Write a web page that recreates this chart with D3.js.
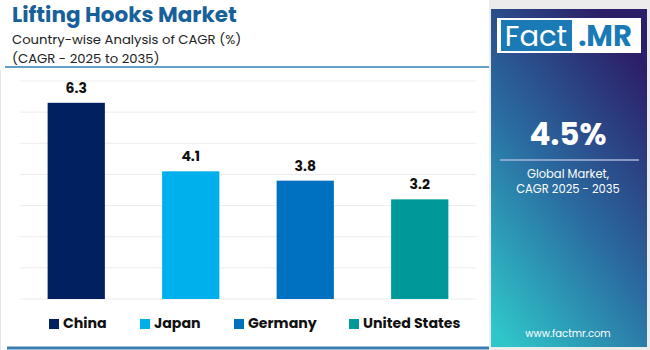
<!DOCTYPE html>
<html lang="en">
<head>
<meta charset="UTF-8">
<script src="https://d3js.org/d3.v7.min.js"></script>
<title>Lifting Hooks Market</title>
<style>
  body { margin: 0; background: #fff; }
  svg { display: block; font-family: Poppins, Inter, "Noto Sans", sans-serif; }
</style>
</head>
<body>
<svg id="chart" width="650" height="350"></svg>
<script>
// data
var countries = ["China", "Japan", "Germany", "United States"];
var cagr = [6.3, 4.1, 3.8, 3.2];
var colors = ["#00205f", "#00b0ec", "#0070c0", "#00999a"];
var gridTicks = [0, 1, 2, 3, 4, 5, 6, 7];
var globalCagr = "4.5%";

var svg = d3.select("#chart");

// plot area
var x = d3.scaleBand()
    .domain(countries)
    .range([19, 477])
    .paddingInner(0.5)
    .paddingOuter(0.25);

var y = d3.scaleLinear()
    .domain([0, 7])
    .range([299, 81]);

// titles
svg.append("text")
    .attr("x", 12).attr("y", 22)
    .attr("font-size", 21.5).attr("font-weight", 700)
    .attr("fill", "#17609a")
    .text("Lifting Hooks Market");
svg.append("text")
    .attr("x", 12).attr("y", 44)
    .attr("font-size", 13.2).attr("fill", "#222")
    .text("Country-wise Analysis of CAGR (%)");
svg.append("text")
    .attr("x", 12).attr("y", 63)
    .attr("font-size", 13.2).attr("fill", "#222")
    .text("(CAGR - 2025 to 2035)");

svg.append("line")
    .attr("x1", 5).attr("x2", 489)
    .attr("y1", 67).attr("y2", 67)
    .attr("stroke", "#2f7fb5").attr("stroke-width", 1.5);

// gridlines
svg.append("g").selectAll("line")
    .data(gridTicks)
    .enter().append("line")
    .attr("x1", 20).attr("x2", 476)
    .attr("y1", function (d) { return y(d); })
    .attr("y2", function (d) { return y(d); })
    .attr("stroke", "#ececec").attr("stroke-width", 1);

// bars
svg.append("g").selectAll("rect")
    .data(cagr)
    .enter().append("rect")
    .attr("x", function (d, i) { return x(countries[i]); })
    .attr("y", function (d) { return y(d); })
    .attr("width", x.bandwidth())
    .attr("height", function (d) { return y(0) - y(d); })
    .attr("fill", function (d, i) { return colors[i]; });

// value labels
svg.append("g").selectAll("text")
    .data(cagr)
    .enter().append("text")
    .attr("x", function (d, i) { return x(countries[i]) + x.bandwidth() / 2; })
    .attr("y", function (d) { return y(d) - 10; })
    .attr("text-anchor", "middle")
    .attr("font-size", 14).attr("font-weight", 700)
    .attr("fill", "#111")
    .text(function (d) { return d.toFixed(1); });

// legend
var legendX = [49, 140, 234, 349];
var legend = svg.append("g").selectAll("g")
    .data(countries)
    .enter().append("g")
    .attr("transform", function (d, i) { return "translate(" + legendX[i] + ",318)"; });
legend.append("rect")
    .attr("width", 10).attr("height", 10)
    .attr("y", 1)
    .attr("fill", function (d, i) { return colors[i]; });
legend.append("text")
    .attr("x", 14).attr("y", 10)
    .attr("font-size", 14.2).attr("font-weight", 700)
    .attr("fill", "#111")
    .text(function (d) { return d; });

svg.append("line")
    .attr("x1", 7).attr("x2", 489)
    .attr("y1", 348).attr("y2", 348)
    .attr("stroke", "#3b7fb0").attr("stroke-width", 3);
svg.append("line")
    .attr("x1", 0.5).attr("x2", 0.5)
    .attr("y1", 70).attr("y2", 350)
    .attr("stroke", "#e6e6e6");

// right panel
var defs = svg.append("defs");
var grad = defs.append("linearGradient")
    .attr("id", "panelGrad")
    .attr("x1", "0.1").attr("y1", "1")
    .attr("x2", "0.7").attr("y2", "0");
grad.append("stop").attr("offset", "0").attr("stop-color", "#2fc6ca");
grad.append("stop").attr("offset", "0.5").attr("stop-color", "#2a6aa0");
grad.append("stop").attr("offset", "1").attr("stop-color", "#2c1e68");

svg.append("rect")
    .attr("x", 489).attr("y", 0)
    .attr("width", 161).attr("height", 350)
    .attr("fill", "#ececec");
svg.append("rect")
    .attr("x", 491).attr("y", 9)
    .attr("width", 156).attr("height", 338)
    .attr("fill", "url(#panelGrad)");

// logo
svg.append("rect")
    .attr("x", 497).attr("y", 18)
    .attr("width", 144).attr("height", 35)
    .attr("fill", "#fff");
svg.append("rect")
    .attr("x", 501).attr("y", 20)
    .attr("width", 71).attr("height", 31)
    .attr("fill", "#1a7ab5");
svg.append("text")
    .attr("x", 536).attr("y", 46)
    .attr("text-anchor", "middle")
    .attr("font-size", 29).attr("fill", "#fff")
    .text("Fact");
svg.append("text")
    .attr("x", 605).attr("y", 46)
    .attr("text-anchor", "middle")
    .attr("font-size", 29).attr("font-weight", 700)
    .attr("fill", "#1a7ab5")
    .text(".MR");

svg.append("text")
    .attr("x", 568).attr("y", 145)
    .attr("text-anchor", "middle")
    .attr("font-size", 31).attr("font-weight", 700)
    .attr("fill", "#fff")
    .text(globalCagr);
svg.append("line")
    .attr("x1", 500).attr("x2", 639)
    .attr("y1", 160).attr("y2", 160)
    .attr("stroke", "#a9b6d8").attr("stroke-width", 1.5);
svg.append("text")
    .attr("x", 568).attr("y", 178)
    .attr("text-anchor", "middle")
    .attr("font-size", 11.5).attr("fill", "#fff")
    .text("Global Market,");
svg.append("text")
    .attr("x", 568).attr("y", 193)
    .attr("text-anchor", "middle")
    .attr("font-size", 11.5).attr("fill", "#fff")
    .text("CAGR 2025 - 2035");
svg.append("text")
    .attr("x", 568).attr("y", 337)
    .attr("text-anchor", "middle")
    .attr("font-size", 10).attr("fill", "#fff")
    .text("www.factmr.com");
</script>
</body>
</html>
